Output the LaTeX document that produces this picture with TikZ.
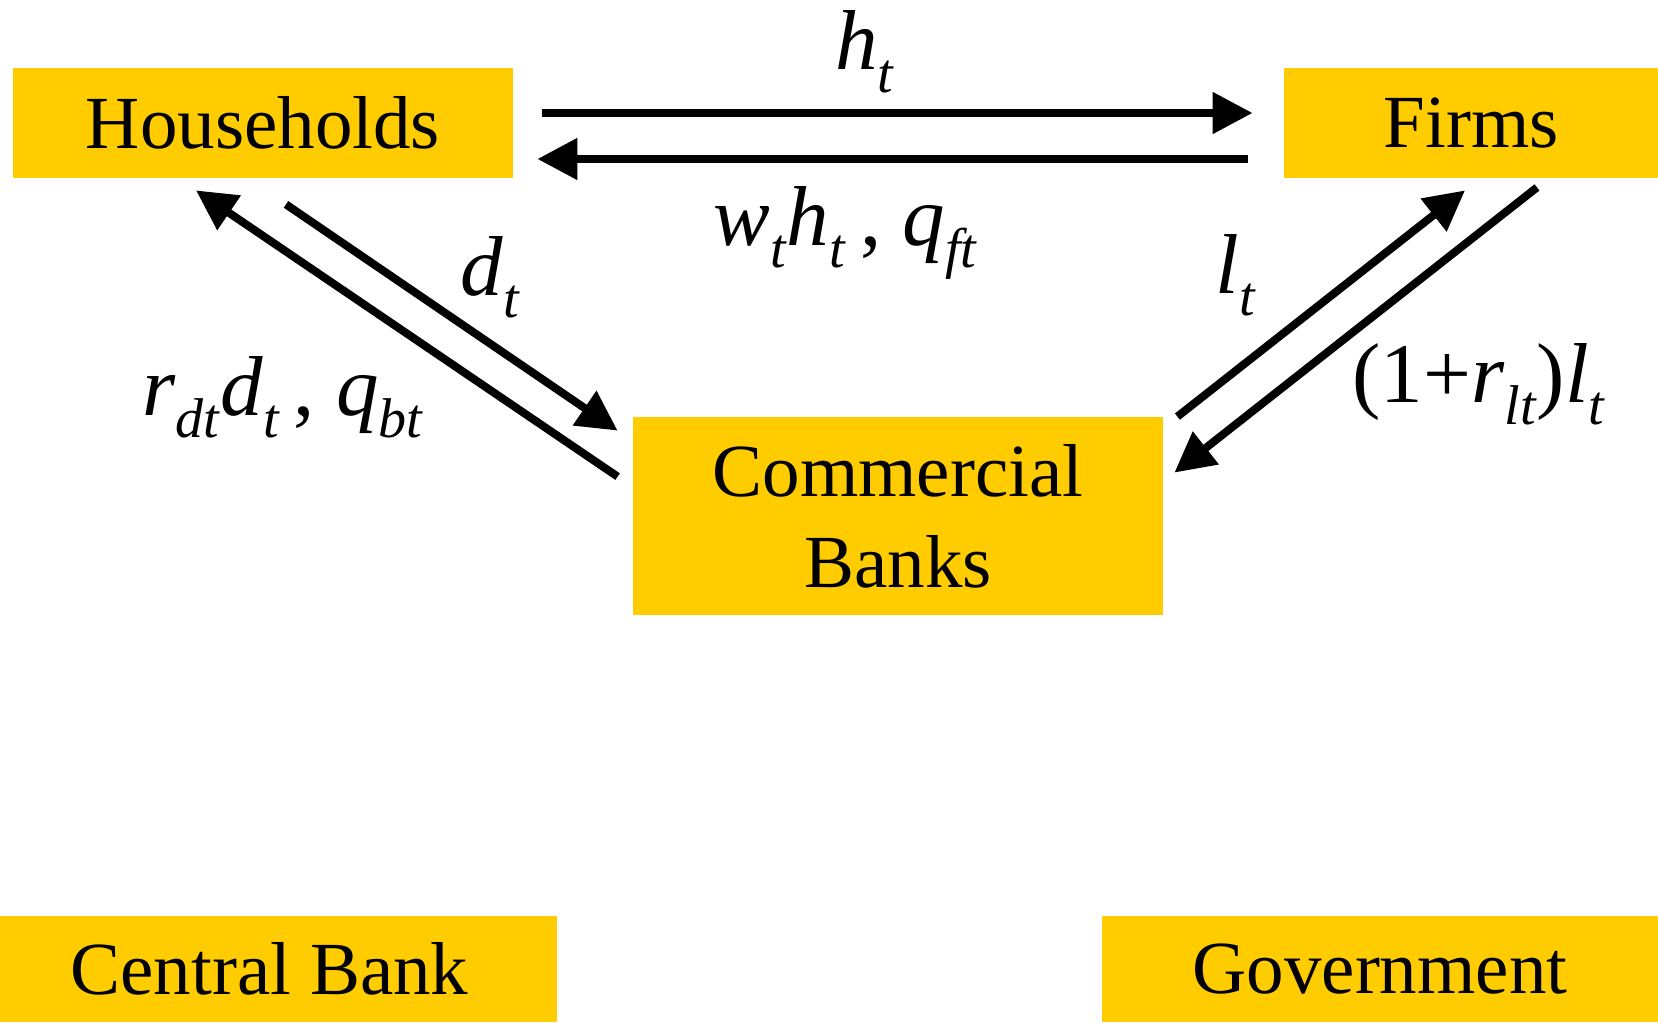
\documentclass[tikz,border=0pt]{standalone}
\usepackage{fontspec}
\setmainfont{Liberation Serif}
\usetikzlibrary{arrows.meta}
\definecolor{gold}{HTML}{FFCC00}
% italic symbol with a lowered subscript
\newcommand{\vsub}[2]{\textit{#1}\raisebox{-0.27em}{\fontsize{28pt}{28pt}\selectfont\textit{#2}}}

\begin{document}
\begin{tikzpicture}[x=0.5pt, y=-0.5pt,
  sector/.style={fill=gold, inner sep=0pt, align=center, font=\fontsize{37.5pt}{45.5pt}\selectfont},
  flow/.style={line width=4pt, -{Triangle[length=20pt,width=20pt]}},
  lbl/.style={anchor=base west, inner sep=0pt, font=\fontsize{42.5pt}{50pt}\selectfont}]
\useasboundingbox (0,0) rectangle (1658,1022);

% Sectors
\node[sector, minimum width=250pt, minimum height=55pt] (hh) at (263,123) {Households};
\node[sector, minimum width=187pt, minimum height=55pt] (fi) at (1471,123) {Firms};
\node[sector, minimum width=265pt, minimum height=99pt] (bk) at (898,516) {Commercial\\Banks};
\node[sector, minimum width=278.5pt, minimum height=53pt] (cb) at (278.5,969) {Central Bank\hspace{9pt}};
\node[sector, minimum width=278pt, minimum height=53pt] (gv) at (1380,969) {Government};

% Households <-> Firms
\draw[flow] ([xshift=14.5pt, yshift=5pt]hh.east) -- ([xshift=-15.5pt, yshift=5pt]fi.west);
\draw[flow] ([xshift=-18pt, yshift=-18pt]fi.west) -- ([xshift=12pt, yshift=-18pt]hh.east);

% Households <-> Banks
\draw[flow] ([xshift=-7.5pt, yshift=-30pt]bk.north west) -- ([xshift=-33.5pt, yshift=-6pt]hh.south);
\draw[flow] ([xshift=11.5pt, yshift=-13pt]hh.south) -- ([xshift=-7.5pt, yshift=-7pt]bk.north west);

% Firms <-> Banks
\draw[flow] ([xshift=7pt]bk.north east) -- ([xshift=-3pt, yshift=-6pt]fi.south);
\draw[flow] ([xshift=33pt, yshift=-4.5pt]fi.south) -- ([xshift=5.5pt, yshift=-28pt]bk.north east);

% Flow labels
\node[lbl] (lh) at (835,70) {\vsub{h}{t}};
\node[lbl] (lw) at (713,245) {\vsub{w}{t}\vsub{h}{t}\,, \vsub{q}{ft}};
\node[lbl] (ld) at (460,295) {\vsub{d}{t}};
\node[lbl] (lr) at (142,415) {\vsub{r}{dt}\vsub{d}{t}\,, \vsub{q}{bt}};
\node[lbl] (ll) at (1215,293) {\vsub{l}{t}};
\node[lbl] (lp) at (1352,402) {(1+\vsub{r}{lt})\vsub{l}{t}};

\end{tikzpicture}
\end{document}
